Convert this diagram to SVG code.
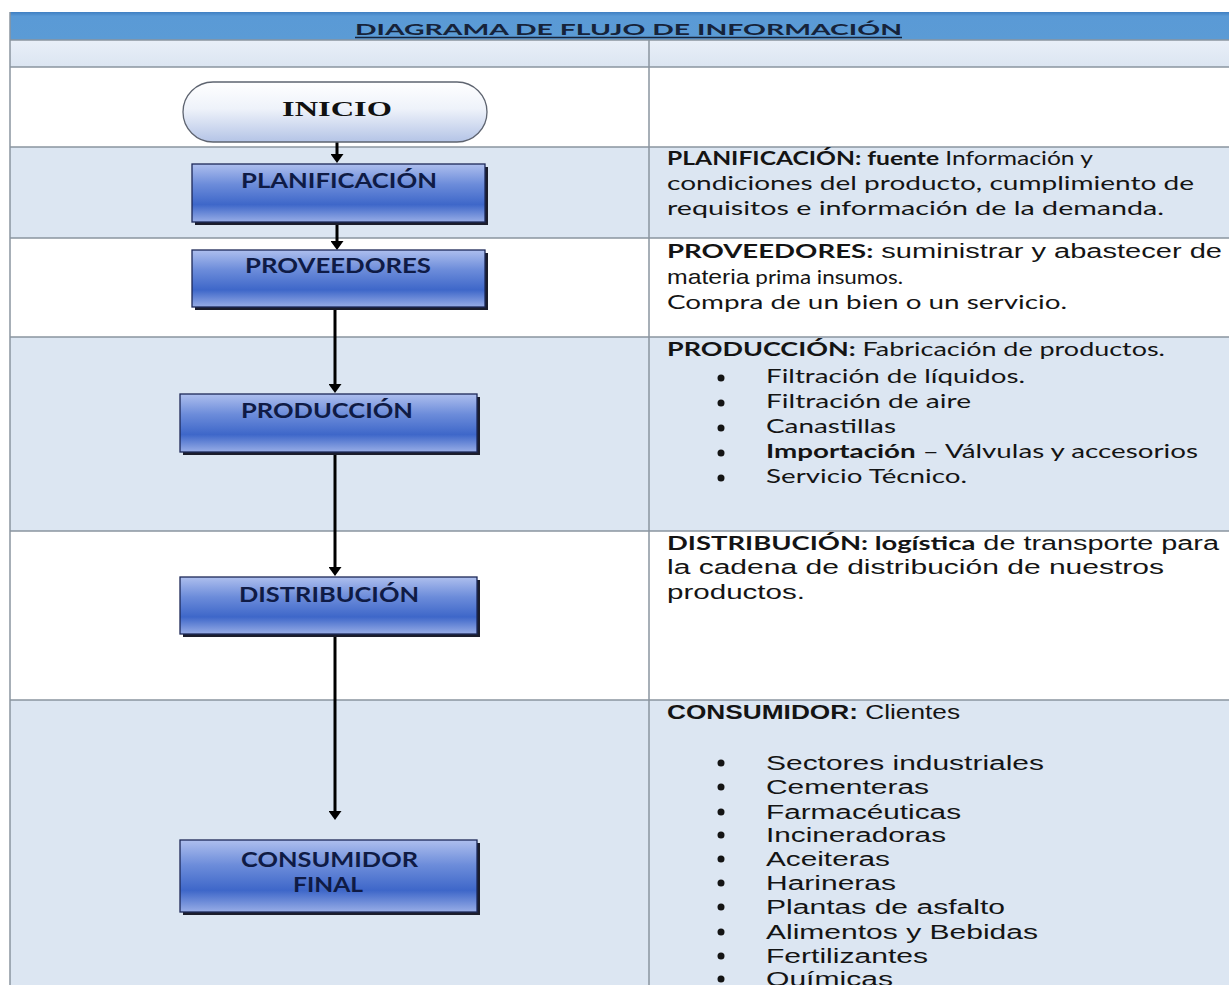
<svg xmlns="http://www.w3.org/2000/svg" width="1229" height="985" viewBox="0 0 1229 985">
  <style>
    .grid { stroke: #8a949f; stroke-width: 1.5; fill: none; }
    .rowBlue { fill: #dce6f2; }
    .rowWhite { fill: #ffffff; }
    .box { fill: url(#boxFill); stroke: #1d2858; stroke-width: 1.3; }
    .shadow { fill: #1b1d2c; }
    .boxLabel { font-family: Lato, "Open Sans", sans-serif; font-weight: 700; font-size: 20px; fill: #0f1b45; }
    .cal { font-family: Lato, "Open Sans", sans-serif; font-size: 19px; fill: #141414; }
    .ari { font-family: "Liberation Sans", Arial, sans-serif; font-size: 20px; fill: #141414; }
    .b { font-weight: 700; }
    .conn { stroke: #000; stroke-width: 3; fill: none; marker-end: url(#arrow); }
    .bullet { fill: #141414; }
  </style>
  <defs>
    <linearGradient id="headFill" x1="0" y1="0" x2="0" y2="1">
      <stop offset="0" stop-color="#3f7fc2"/>
      <stop offset="0.15" stop-color="#5a9ad6"/>
      <stop offset="1" stop-color="#5b9bd5"/>
    </linearGradient>
    <linearGradient id="subFill" x1="0" y1="0" x2="0" y2="1">
      <stop offset="0" stop-color="#e9eff8"/>
      <stop offset="1" stop-color="#dbe5f1"/>
    </linearGradient>
    <linearGradient id="boxFill" x1="0" y1="0" x2="0" y2="1">
      <stop offset="0" stop-color="#aebfee"/>
      <stop offset="0.35" stop-color="#6c8cda"/>
      <stop offset="0.7" stop-color="#3e67c9"/>
      <stop offset="1" stop-color="#98ade6"/>
    </linearGradient>
    <linearGradient id="pillFill" x1="0" y1="0" x2="0" y2="1">
      <stop offset="0" stop-color="#ffffff"/>
      <stop offset="0.45" stop-color="#eef2fa"/>
      <stop offset="1" stop-color="#b4c4e6"/>
    </linearGradient>
    <marker id="arrow" viewBox="0 0 9 13" refX="3" refY="6.5" markerWidth="9" markerHeight="13" markerUnits="userSpaceOnUse" orient="auto">
      <path d="M0,0 L9,6.5 L0,13 z" fill="#000"/>
    </marker>
  </defs>

  <!-- table background -->
  <rect x="0" y="0" width="1229" height="985" fill="#ffffff"/>
  <g id="table">
    <rect x="10" y="12" width="1219" height="28" fill="url(#headFill)"/>
    <rect x="10" y="40" width="1219" height="27" fill="url(#subFill)"/>
    <rect x="10" y="67" width="1219" height="80" class="rowWhite"/>
    <rect x="10" y="147" width="1219" height="91" class="rowBlue"/>
    <rect x="10" y="238" width="1219" height="99" class="rowWhite"/>
    <rect x="10" y="337" width="1219" height="194" class="rowBlue"/>
    <rect x="10" y="531" width="1219" height="169" class="rowWhite"/>
    <rect x="10" y="700" width="1219" height="285" class="rowBlue"/>
    <line class="grid" x1="10" y1="40" x2="1229" y2="40"/>
    <line class="grid" x1="10" y1="67" x2="1229" y2="67"/>
    <line class="grid" x1="10" y1="147" x2="1229" y2="147"/>
    <line class="grid" x1="10" y1="238" x2="1229" y2="238"/>
    <line class="grid" x1="10" y1="337" x2="1229" y2="337"/>
    <line class="grid" x1="10" y1="531" x2="1229" y2="531"/>
    <line class="grid" x1="10" y1="700" x2="1229" y2="700"/>
    <line class="grid" x1="10" y1="12" x2="10" y2="985"/>
    <line class="grid" x1="649" y1="40" x2="649" y2="985"/>
    <text x="355" y="35" textLength="547" lengthAdjust="spacingAndGlyphs" font-family="Lato, 'Open Sans', sans-serif" font-weight="700" font-size="16" fill="#16233a">DIAGRAMA DE FLUJO DE INFORMACIÓN</text>
    <line x1="355" y1="37.5" x2="902" y2="37.5" stroke="#16233a" stroke-width="1.5"/>
  </g>

  <!-- flow connectors -->
  <g id="connectors">
    <line class="conn" x1="337" y1="142" x2="337" y2="157"/>
    <line class="conn" x1="337" y1="225" x2="337" y2="244"/>
    <line class="conn" x1="335" y1="309" x2="335" y2="387"/>
    <line class="conn" x1="335" y1="454" x2="335" y2="570"/>
    <line class="conn" x1="335" y1="636" x2="335" y2="814"/>
  </g>

  <!-- flow nodes -->
  <g id="inicio">
    <rect x="183" y="82" width="304" height="60" rx="30" ry="30" fill="url(#pillFill)" stroke="#5e6470" stroke-width="1.3"/>
    <text x="282" y="116" textLength="110" lengthAdjust="spacingAndGlyphs" font-family="'Liberation Serif', 'Times New Roman', serif" font-weight="700" font-size="22" fill="#111">INICIO</text>
  </g>

  <g id="planificacion">
    <rect class="shadow" x="195" y="167" width="293" height="58"/>
    <rect class="box" x="192" y="164" width="293" height="58"/>
    <text class="boxLabel" x="241" y="188" textLength="196" lengthAdjust="spacingAndGlyphs">PLANIFICACIÓN</text>
  </g>

  <g id="proveedores">
    <rect class="shadow" x="195" y="253" width="293" height="57"/>
    <rect class="box" x="192" y="250" width="293" height="57"/>
    <text class="boxLabel" x="245" y="273" textLength="186" lengthAdjust="spacingAndGlyphs">PROVEEDORES</text>
  </g>

  <g id="produccion">
    <rect class="shadow" x="183" y="397" width="297" height="58"/>
    <rect class="box" x="180" y="394" width="297" height="58"/>
    <text class="boxLabel" x="241" y="418" textLength="172" lengthAdjust="spacingAndGlyphs">PRODUCCIÓN</text>
  </g>

  <g id="distribucion">
    <rect class="shadow" x="183" y="580" width="297" height="57"/>
    <rect class="box" x="180" y="577" width="297" height="57"/>
    <text class="boxLabel" x="239" y="602" textLength="180" lengthAdjust="spacingAndGlyphs">DISTRIBUCIÓN</text>
  </g>

  <g id="consumidor">
    <rect class="shadow" x="183" y="843" width="297" height="72"/>
    <rect class="box" x="180" y="840" width="297" height="72"/>
    <text class="boxLabel" x="241" y="867" textLength="177" lengthAdjust="spacingAndGlyphs">CONSUMIDOR</text>
    <text class="boxLabel" x="293" y="892" textLength="70" lengthAdjust="spacingAndGlyphs">FINAL</text>
  </g>

  <!-- descriptions -->
  <g id="desc-planificacion">
    <text class="cal" x="667" y="165" textLength="426" lengthAdjust="spacingAndGlyphs"><tspan class="b">PLANIFICACIÓN: fuente</tspan> Información y</text>
    <text class="cal" x="667" y="190" textLength="527" lengthAdjust="spacingAndGlyphs">condiciones del producto, cumplimiento de</text>
    <text class="cal" x="667" y="215" textLength="497" lengthAdjust="spacingAndGlyphs">requisitos e información de la demanda.</text>
  </g>

  <g id="desc-proveedores">
    <text class="cal" x="667" y="258" textLength="555" lengthAdjust="spacingAndGlyphs"><tspan class="b">PROVEEDORES:</tspan><tspan font-family="'Liberation Sans', Arial, sans-serif" font-size="20"> suministrar y abastecer de</tspan></text>
    <text class="cal" x="667" y="284" textLength="236" lengthAdjust="spacingAndGlyphs"><tspan font-family="'Liberation Sans', Arial, sans-serif" font-size="21">materia</tspan> prima insumos.</text>
    <text class="cal" x="667" y="309" textLength="400" lengthAdjust="spacingAndGlyphs">Compra de un bien o un servicio.</text>
  </g>

  <g id="desc-produccion">
    <text class="cal" x="667" y="356" textLength="498" lengthAdjust="spacingAndGlyphs"><tspan class="b">PRODUCCIÓN:</tspan> Fabricación de productos.</text>
    <circle class="bullet" cx="721" cy="378" r="3.5"/>
    <circle class="bullet" cx="721" cy="403" r="3.5"/>
    <circle class="bullet" cx="721" cy="428" r="3.5"/>
    <circle class="bullet" cx="721" cy="453" r="3.5"/>
    <circle class="bullet" cx="721" cy="478" r="3.5"/>
    <text class="cal" x="766" y="383" textLength="259" lengthAdjust="spacingAndGlyphs">Filtración de líquidos.</text>
    <text class="cal" x="766" y="408" textLength="205" lengthAdjust="spacingAndGlyphs">Filtración de aire</text>
    <text class="cal" x="766" y="433" textLength="130" lengthAdjust="spacingAndGlyphs">Canastillas</text>
    <text class="cal" x="766" y="458" textLength="432" lengthAdjust="spacingAndGlyphs"><tspan class="b">Importación</tspan> – Válvulas y accesorios</text>
    <text class="cal" x="766" y="483" textLength="201" lengthAdjust="spacingAndGlyphs">Servicio Técnico.</text>
  </g>

  <g id="desc-distribucion">
    <text class="cal" x="667" y="550" textLength="552" lengthAdjust="spacingAndGlyphs"><tspan class="b">DISTRIBUCIÓN: logística</tspan><tspan font-family="'Liberation Sans', Arial, sans-serif" font-size="20"> de transporte para</tspan></text>
    <text class="ari" x="667" y="574" textLength="497" lengthAdjust="spacingAndGlyphs">la cadena de distribución de nuestros</text>
    <text class="ari" x="667" y="599" textLength="138" lengthAdjust="spacingAndGlyphs">productos.</text>
  </g>

  <g id="desc-consumidor">
    <text class="ari" x="667" y="719" font-size="17" textLength="293" lengthAdjust="spacingAndGlyphs"><tspan class="b">CONSUMIDOR:</tspan> Clientes</text>
    <circle class="bullet" cx="721" cy="763" r="3.5"/>
    <circle class="bullet" cx="721" cy="787" r="3.5"/>
    <circle class="bullet" cx="721" cy="812" r="3.5"/>
    <circle class="bullet" cx="721" cy="835" r="3.5"/>
    <circle class="bullet" cx="721" cy="859" r="3.5"/>
    <circle class="bullet" cx="721" cy="883" r="3.5"/>
    <circle class="bullet" cx="721" cy="907" r="3.5"/>
    <circle class="bullet" cx="721" cy="932" r="3.5"/>
    <circle class="bullet" cx="721" cy="956" r="3.5"/>
    <circle class="bullet" cx="721" cy="979" r="3.5"/>
    <text class="ari" x="766" y="770" textLength="278" lengthAdjust="spacingAndGlyphs">Sectores industriales</text>
    <text class="ari" x="766" y="794" textLength="163" lengthAdjust="spacingAndGlyphs">Cementeras</text>
    <text class="ari" x="766" y="819" textLength="195" lengthAdjust="spacingAndGlyphs">Farmacéuticas</text>
    <text class="ari" x="766" y="842" textLength="180" lengthAdjust="spacingAndGlyphs">Incineradoras</text>
    <text class="ari" x="766" y="866" textLength="124" lengthAdjust="spacingAndGlyphs">Aceiteras</text>
    <text class="ari" x="766" y="890" textLength="130" lengthAdjust="spacingAndGlyphs">Harineras</text>
    <text class="ari" x="766" y="914" textLength="239" lengthAdjust="spacingAndGlyphs">Plantas de asfalto</text>
    <text class="ari" x="766" y="939" textLength="272" lengthAdjust="spacingAndGlyphs">Alimentos y Bebidas</text>
    <text class="ari" x="766" y="963" textLength="162" lengthAdjust="spacingAndGlyphs">Fertilizantes</text>
    <text class="ari" x="766" y="986" textLength="127" lengthAdjust="spacingAndGlyphs">Químicas</text>
  </g>
</svg>
